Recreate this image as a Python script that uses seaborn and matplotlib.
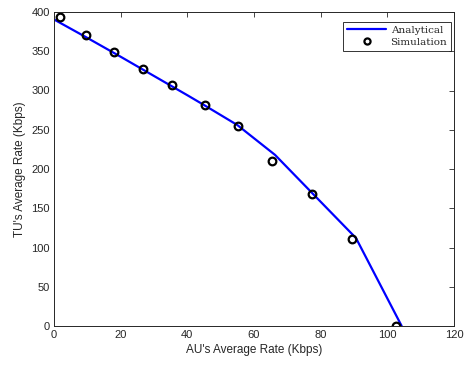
import matplotlib
matplotlib.use("Agg")
import matplotlib.pyplot as plt
import seaborn as sns
import pandas as pd

# Analytical curve
analytical_x = [0, 10, 20, 30, 40, 45, 55, 66.3, 90.6, 104.3]
analytical_y = [390.5, 367, 343, 318.5, 294, 281.5, 256, 218, 112, 0]

# Simulation points
sim_x = [1.7, 9.5, 17.9, 26.7, 35.5, 45.2, 55.3, 65.5, 77.5, 89.5, 102.7]
sim_y = [393.5, 370.5, 348.5, 327, 307.5, 281.5, 255, 210.5, 168.5, 111, 0]

xticks = [0, 20, 40, 60, 80, 100, 120]
yticks = [0, 50, 100, 150, 200, 250, 300, 350, 400]

sns.set_style("white")
plt.rcParams['font.family'] = ['Liberation Sans', 'DejaVu Sans']

df_a = pd.DataFrame({"x": analytical_x, "y": analytical_y})

fig = plt.figure(figsize=(4.71, 3.66), dpi=100)
ax = fig.add_axes([54/471, 1-326/366, 400/471, 314/366])

sns.lineplot(data=df_a, x="x", y="y", ax=ax, color=(0, 0, 1), linewidth=1.6,
             label="Analytical", sort=False, estimator=None)
ax.plot(sim_x, sim_y, linestyle="none", marker="o", markersize=5.5,
        markerfacecolor="none", markeredgecolor="black", markeredgewidth=1.6,
        label="Simulation")

ax.set_xlim(0, 120)
ax.set_ylim(0, 400)
ax.set_xticks(xticks)
ax.set_yticks(yticks)
gray = "#262626"
ax.tick_params(direction="in", length=3.5, width=0.6, colors=gray, labelsize=8,
               top=True, right=True, labeltop=False, labelright=False, pad=3)
for sp in ax.spines.values():
    sp.set_color(gray)
    sp.set_linewidth(0.7)
    sp.set_visible(True)

ax.set_xlabel("AU's Average Rate (Kbps)", fontsize=8.5, color=gray, labelpad=3)
ax.set_ylabel("TU's Average Rate (Kbps)", fontsize=8.5, color=gray, labelpad=4)

leg = ax.legend(loc="upper right", bbox_to_anchor=(0.9925, 0.968),
                frameon=True, fancybox=False,
                edgecolor="black", borderpad=0.35, handlelength=3.8,
                labelspacing=0.25, borderaxespad=0.0, handletextpad=0.4,
                markerscale=0.8,
                prop={"family": "DejaVu Serif", "size": 7.5})
leg.get_frame().set_linewidth(0.7)

fig.savefig("out.png", dpi=100)
